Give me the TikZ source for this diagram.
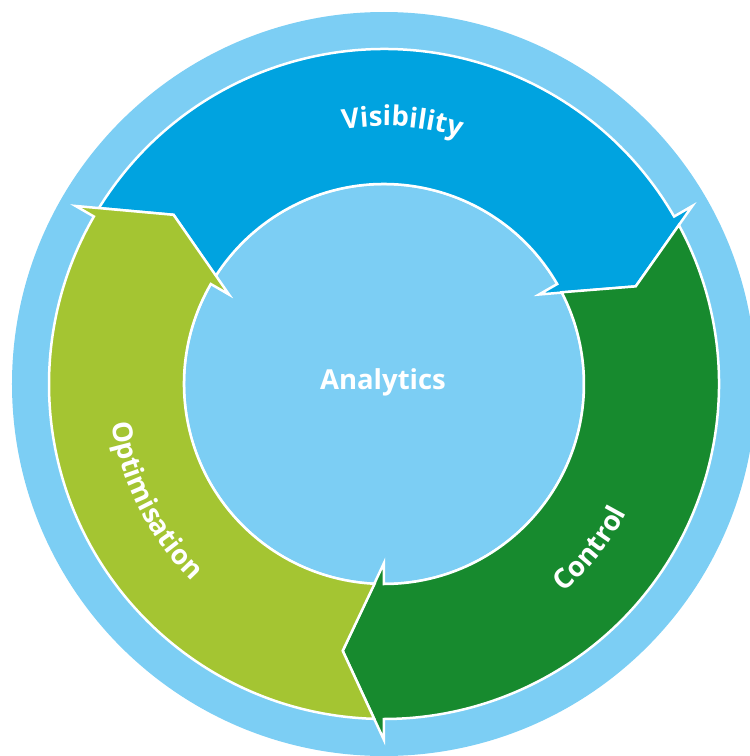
\documentclass[tikz,border=0pt]{standalone}
\usepackage{fontspec}
\usetikzlibrary{decorations.text}
\newfontfamily\lblfamily{Open Sans}
\newcommand\lbl{\lblfamily\bfseries\fontsize{27.5pt}{33pt}\selectfont}
\definecolor{skyring}{RGB}{124,206,244}
\definecolor{visblue}{RGB}{0,163,224}
\definecolor{ctrlgreen}{RGB}{23,138,46}
\definecolor{optlime}{RGB}{164,197,50}
% one arrow of the cycle: tail angle, head angle, fill colour
\newcommand\cyclearrow[3]{%
  \filldraw[segment, fill=#3]
    (#1-1.68:335) arc[start angle=#1-1.68, end angle=#2, radius=335]
    -- (#2:356) -- (#2-8.8:270) -- (#2:179) -- (#2:200)
    arc[start angle=#2, end angle=#1-2.70, radius=200]
    -- (#1-8.8:270) -- cycle;}
\tikzset{
  segment/.style={draw=white, line width=2.5pt, line join=miter},
  ringtext/.style={decorate, decoration={text along path, text align=center,
      text color=white, text={|\lbl|#1}}}
}
\begin{document}
\begin{tikzpicture}[x=1pt, y=1pt]
  \useasboundingbox (-384,-372) rectangle (366,384);
  \clip (-384,-372) rectangle (366,384);
  % background disc and central hub
  \fill[skyring] (0,0) circle[radius=372];
  \filldraw[fill=skyring, draw=white, line width=2.5pt] (0,0) circle[radius=200];
  % the three arrows of the cycle
  \cyclearrow{150}{30}{visblue}
  \cyclearrow{30}{-90}{ctrlgreen}
  \cyclearrow{270}{150}{optlime}
  % labels
  \node[text=white, anchor=base, font=\lbl] (analytics) at (-1,-5.5) {Analytics};
  \path[ringtext=Visibility] (116:258) arc[start angle=116, end angle=56, radius=258];
  \path[ringtext=Optimisation] (177:275) arc[start angle=177, end angle=237, radius=275];
  \path[ringtext=Control] (-68.6:275) arc[start angle=-68.6, end angle=-8.6, radius=275];
\end{tikzpicture}
\end{document}
